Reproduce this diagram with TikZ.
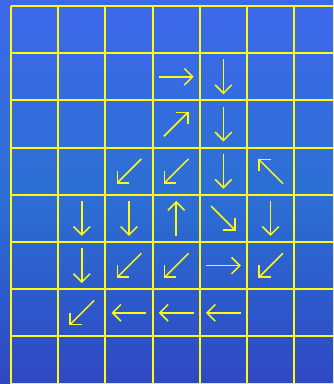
\documentclass[tikz,border=0pt]{standalone}
\usetikzlibrary{arrows.meta}
\definecolor{gridyellow}{RGB}{255,250,20}
\definecolor{topblue}{RGB}{62,104,236}
\definecolor{midblue}{RGB}{44,112,212}
\definecolor{lowblue}{RGB}{46,72,196}

\begin{document}
\begin{tikzpicture}[gridline/.style={color=gridyellow,line width=1.2pt},
    move/.style={color=gridyellow,line width=0.9pt,-{Straight Barb[length=5pt,width=10pt]}}]
            \useasboundingbox (-0.233,0.127) rectangle (6.822,-8.008);
            \shade[top color=topblue,bottom color=lowblue,middle color=midblue] (-0.233,0.127) rectangle (6.822,-8.008);
            \clip (-0.233,0.127) rectangle (6.822,-8.008);
            % the grid, cut off at the right and bottom
            \foreach \i in {0,...,6} \draw[gridline] (\i,0) -- (\i,-8.3);
            \foreach \j in {0,...,8} \draw[gridline] (0,-\j) -- (7.2,-\j);
            % column/row/direction of each arrow
            \foreach \c/\r/\a in {3/1/0, 4/1/270,
                3/2/45, 4/2/270,
                2/3/225, 3/3/225, 4/3/270, 5/3/135,
                1/4/270, 2/4/270, 3/4/90, 4/4/315, 5/4/270,
                1/5/270, 2/5/225, 3/5/225, 4/5/0, 5/5/225,
                1/6/225, 2/6/180, 3/6/180, 4/6/180}
              \draw[move] (\c+0.5,-\r-0.5) ++(\a+180:0.37) -- ++(\a:0.74);
        \end{tikzpicture}
\end{document}
